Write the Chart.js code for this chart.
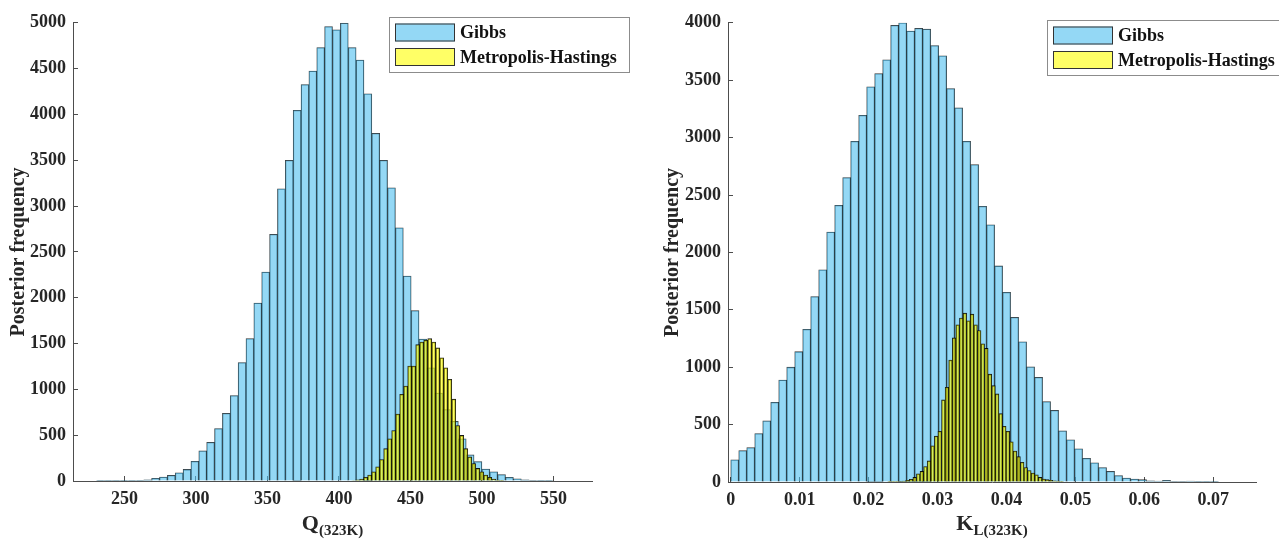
<!DOCTYPE html>
<html>
<head>
<meta charset="utf-8">
<script src="https://cdn.jsdelivr.net/npm/chart.js@4.4.1/dist/chart.umd.min.js"></script>
<style>
  html, body { margin: 0; padding: 0; background: #fff; }
  #wrap { position: relative; width: 1279px; height: 539px; overflow: hidden; }
  canvas { position: absolute; top: 0; }
  #chart-q { left: 0; }
  #chart-k { left: 640px; }
</style>
</head>
<body>
<div id="wrap">
  <canvas id="chart-q" width="640" height="539"></canvas>
  <canvas id="chart-k" width="639" height="539"></canvas>
</div>
<script>
const seriesNames = ['Gibbs', 'Metropolis-Hastings'];
const freqTitle = 'Posterior frequency';

// ---- Q(323K) panel ----
const qTicks = [250, 300, 350, 400, 450, 500, 550];
const qFreqTicks = [0, 500, 1000, 1500, 2000, 2500, 3000, 3500, 4000, 4500, 5000];
const gibbsQCenters = [
  233.25, 238.75, 244.25, 249.75, 255.25, 260.75, 266.25, 271.75, 277.25, 282.75,
  288.25, 293.75, 299.25, 304.75, 310.25, 315.75, 321.25, 326.75, 332.25, 337.75,
  343.25, 348.75, 354.25, 359.75, 365.25, 370.75, 376.25, 381.75, 387.25, 392.75,
  398.25, 403.75, 409.25, 414.75, 420.25, 425.75, 431.25, 436.75, 442.25, 447.75,
  453.25, 458.75, 464.25, 469.75, 475.25, 480.75, 486.25, 491.75, 497.25, 502.75,
  508.25, 513.75, 519.25, 524.75, 530.25, 535.75, 541.25, 546.75
];
const gibbsQCounts = [
  1, 1, 1, 2, 3, 7, 14, 29, 43, 61,
  90, 126, 216, 328, 421, 573, 738, 933, 1293, 1553,
  1942, 2280, 2691, 3188, 3498, 4045, 4326, 4474, 4730, 4960,
  4924, 4996, 4730, 4593, 4226, 3793, 3498, 3199, 2763, 2237,
  1859, 1550, 1235, 960, 780, 650, 460, 285, 212, 130,
  100, 70, 40, 25, 13, 6, 3, 1
];
const mhQCenters = [
  410.3, 413.1, 415.9, 418.7, 421.5, 424.3, 427.1, 429.9, 432.7, 435.5,
  438.3, 441.1, 443.9, 446.7, 449.5, 452.3, 455.1, 457.9, 460.7, 463.5,
  466.3, 469.1, 471.9, 474.7, 477.5, 480.3, 483.1, 485.9, 488.7, 491.5,
  494.3, 497.1, 499.9, 502.7, 505.5, 508.3, 511.1, 513.9
];
const mhQCounts = [
  5, 12, 20, 40, 65, 100, 155, 234, 353, 461,
  551, 731, 947, 1037, 1254, 1254, 1488, 1517, 1535, 1553,
  1517, 1452, 1344, 1236, 1110, 893, 605, 497, 353, 263,
  191, 137, 101, 65, 40, 22, 11, 4
];

// ---- K_L(323K) panel ----
const kTicks = [0, 0.01, 0.02, 0.03, 0.04, 0.05, 0.06, 0.07];
const kFreqTicks = [0, 500, 1000, 1500, 2000, 2500, 3000, 3500, 4000];
const gibbsKCenters = [
  0.00058, 0.00174, 0.0029, 0.00406, 0.00522, 0.00638, 0.00754, 0.0087, 0.00986, 0.01102,
  0.01218, 0.01334, 0.0145, 0.01566, 0.01682, 0.01798, 0.01914, 0.0203, 0.02146, 0.02262,
  0.02378, 0.02494, 0.0261, 0.02726, 0.02842, 0.02958, 0.03074, 0.0319, 0.03306, 0.03422,
  0.03538, 0.03654, 0.0377, 0.03886, 0.04002, 0.04118, 0.04234, 0.0435, 0.04466, 0.04582,
  0.04698, 0.04814, 0.0493, 0.05046, 0.05162, 0.05278, 0.05394, 0.0551, 0.05626, 0.05742,
  0.05858, 0.05974, 0.0609, 0.06206, 0.06322, 0.06438, 0.06554, 0.0667, 0.06786, 0.06902,
  0.07018
];
const gibbsKCounts = [
  193, 273, 299, 422, 532, 695, 888, 1000, 1135, 1330,
  1615, 1848, 2178, 2411, 2652, 2968, 3195, 3443, 3557, 3678,
  3977, 4000, 3928, 3951, 3945, 3802, 3713, 3428, 3259, 2968,
  2764, 2402, 2241, 1882, 1652, 1434, 1221, 1003, 911, 700,
  624, 445, 368, 290, 207, 167, 126, 92, 56, 35,
  26, 20, 11, 8, 14, 5, 5, 8, 3, 3,
  1
];
const mhKCenters = [
  0.02304, 0.02356, 0.02408, 0.0246, 0.02512, 0.02564, 0.02616, 0.02668, 0.0272, 0.02772,
  0.02824, 0.02876, 0.02928, 0.0298, 0.03032, 0.03084, 0.03136, 0.03188, 0.0324, 0.03292,
  0.03344, 0.03396, 0.03448, 0.035, 0.03552, 0.03604, 0.03656, 0.03708, 0.0376, 0.03812,
  0.03864, 0.03916, 0.03968, 0.0402, 0.04072, 0.04124, 0.04176, 0.04228, 0.0428, 0.04332,
  0.04384, 0.04436, 0.04488, 0.0454, 0.04592, 0.04644, 0.04696, 0.04748, 0.048
];
const mhKCounts = [
  1, 2, 3, 5, 9, 15, 24, 40, 72, 92,
  135, 184, 316, 399, 442, 715, 825, 1063, 1255, 1370,
  1428, 1471, 1405, 1462, 1370, 1319, 1204, 1164, 939, 839,
  767, 595, 486, 442, 350, 270, 221, 172, 126, 100,
  78, 63, 40, 26, 20, 14, 11, 9, 3
];

const FONT = 'Liberation Serif';
const TEXT = '#262626';
const AXIS = '#4d4d4d';
const GIBBS_FILL = 'rgba(77, 190, 238, 0.6)';
const MH_FILL = 'rgba(255, 255, 0, 0.6)';

const toPoints = (xs, ys) => xs.map((x, i) => ({ x, y: ys[i] }));
const fixedTicks = vals => scale => { scale.ticks = vals.map(value => ({ value })); };

// x axis label with a subscript, e.g. Q_(323K)
const subscriptTitle = {
  id: 'subscriptTitle',
  afterDraw(chart, args, opts) {
    const { ctx, chartArea } = chart;
    const mainFont = `bold ${opts.size}px "${FONT}"`;
    const subFont = `bold ${opts.subSize}px "${FONT}"`;
    ctx.save();
    ctx.font = mainFont;
    const w1 = ctx.measureText(opts.main).width;
    ctx.font = subFont;
    const w2 = ctx.measureText(opts.sub).width;
    const x = (chartArea.left + chartArea.right) / 2 - (w1 + w2) / 2;
    ctx.fillStyle = TEXT;
    ctx.textAlign = 'left';
    ctx.textBaseline = 'alphabetic';
    ctx.font = mainFont;
    ctx.fillText(opts.main, x, opts.y);
    ctx.font = subFont;
    ctx.fillText(opts.sub, x + w1, opts.y + opts.drop);
    ctx.restore();
  }
};

// boxed legend in the upper right, like the MATLAB one
const boxLegend = {
  id: 'boxLegend',
  afterDraw(chart, args, opts) {
    const { ctx } = chart;
    const { left, top, width, height } = opts;
    ctx.save();
    ctx.fillStyle = '#fff';
    ctx.fillRect(left, top, width, height);
    ctx.strokeStyle = '#8c8c8c';
    ctx.lineWidth = 1;
    ctx.strokeRect(left + 0.5, top + 0.5, width, height);
    ctx.font = `bold 18px "${FONT}"`;
    ctx.textBaseline = 'middle';
    ctx.textAlign = 'left';
    chart.data.datasets.forEach((ds, i) => {
      const sy = top + 6.5 + i * 24.5;
      ctx.fillStyle = ds.backgroundColor;
      ctx.fillRect(left + 6, sy, 60, 18);
      ctx.strokeStyle = '#333';
      ctx.strokeRect(left + 6.5, sy + 0.5, 59, 17);
      ctx.fillStyle = '#111';
      ctx.fillText(ds.label, left + 71, sy + 10);
    });
    ctx.restore();
  }
};

const tickFont = { family: FONT, size: 18, weight: 'bold' };

function makeHistogram(canvasId, p) {
  return new Chart(document.getElementById(canvasId), {
    type: 'bar',
    data: {
      datasets: [
        {
          label: seriesNames[0],
          data: toPoints(p.gibbsX, p.gibbsY),
          xAxisID: 'x',
          order: 1,
          backgroundColor: GIBBS_FILL,
          borderColor: 'rgba(0, 0, 0, 0.78)',
          borderWidth: 0.6
        },
        {
          label: seriesNames[1],
          data: toPoints(p.mhX, p.mhY),
          xAxisID: 'xMH',
          order: 0,
          backgroundColor: MH_FILL,
          borderColor: 'rgba(0, 0, 0, 0.9)',
          borderWidth: 0.85
        }
      ]
    },
    options: {
      responsive: false,
      animation: false,
      events: [],
      layout: { padding: p.padding },
      datasets: {
        bar: {
          barPercentage: 1,
          categoryPercentage: 1,
          grouped: false,
          borderSkipped: 'start'
        }
      },
      scales: {
        x: {
          type: 'linear',
          position: 'bottom',
          min: p.xMin,
          max: p.xMax,
          offset: false,
          afterBuildTicks: fixedTicks(p.xTicks),
          afterFit: s => { s.height = p.xAxisHeight; },
          grid: { display: true, offset: false, drawOnChartArea: false, drawTicks: true, tickLength: -5, color: AXIS },
          border: { display: true, color: AXIS, width: 1 },
          ticks: {
            autoSkip: false,
            maxRotation: 0,
            padding: 13,
            color: TEXT,
            font: tickFont,
            callback: p.xFormat
          }
        },
        xMH: {
          type: 'linear',
          position: 'bottom',
          display: false,
          min: p.xMin,
          max: p.xMax,
          offset: false,
          grid: { offset: false }
        },
        y: {
          type: 'linear',
          min: 0,
          max: p.yMax,
          afterBuildTicks: fixedTicks(p.yTicks),
          afterFit: s => { s.width = p.yAxisWidth; },
          grid: { display: true, drawOnChartArea: false, drawTicks: true, tickLength: -5, color: AXIS },
          border: { display: true, color: AXIS, width: 1 },
          ticks: { padding: 12, color: TEXT, font: tickFont, callback: v => String(v) },
          title: {
            display: true,
            text: freqTitle,
            color: TEXT,
            font: { family: FONT, size: 20, weight: 'bold' },
            padding: { top: p.yTitlePad, bottom: 0 }
          }
        }
      },
      plugins: {
        legend: { display: false },
        tooltip: { enabled: false },
        subscriptTitle: p.xTitle,
        boxLegend: p.legend
      }
    },
    plugins: [subscriptTitle, boxLegend]
  });
}

makeHistogram('chart-q', {
  gibbsX: gibbsQCenters, gibbsY: gibbsQCounts,
  mhX: mhQCenters, mhY: mhQCounts,
  xMin: 214, xMax: 577, xTicks: qTicks, xFormat: v => String(v),
  yMax: 5000, yTicks: qFreqTicks,
  padding: { left: 0, top: 18, right: 48, bottom: 0 },
  yAxisWidth: 73, xAxisHeight: 58, yTitlePad: 7,
  xTitle: { main: 'Q', sub: '(323K)', size: 22, subSize: 15, y: 530, drop: 5 },
  legend: { left: 389, top: 17, width: 240, height: 55 }
});

makeHistogram('chart-k', {
  gibbsX: gibbsKCenters, gibbsY: gibbsKCounts,
  mhX: mhKCenters, mhY: mhKCounts,
  xMin: -0.0004, xMax: 0.0762, xTicks: kTicks,
  xFormat: v => (v === 0 ? '0' : v.toFixed(2)),
  yMax: 4000, yTicks: kFreqTicks,
  padding: { left: 0, top: 18, right: 23, bottom: 0 },
  yAxisWidth: 88, xAxisHeight: 57, yTitlePad: 21,
  xTitle: { main: 'K', sub: 'L(323K)', size: 22, subSize: 15, y: 530, drop: 5 },
  legend: { left: 407, top: 20, width: 240, height: 55 }
});
</script>
</body>
</html>
